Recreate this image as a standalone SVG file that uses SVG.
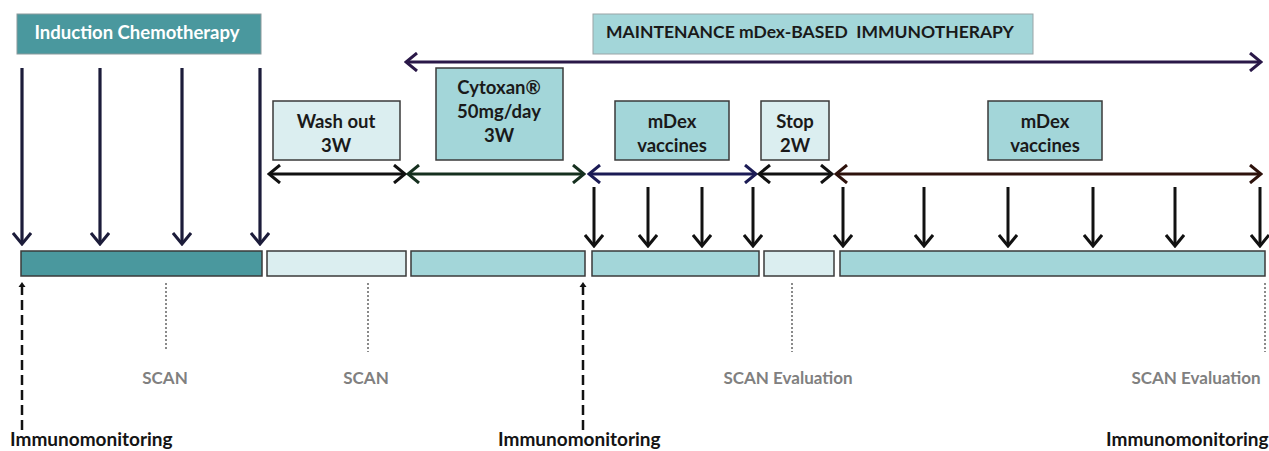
<svg xmlns="http://www.w3.org/2000/svg" width="1269" height="451" viewBox="0 0 1269 451">
  <style>
    .lbl { font-family: Lato, "Open Sans", "Liberation Sans", sans-serif; font-weight: bold; text-anchor: middle; font-size: 18.5px; fill: #1a1a1a; }
    .box { stroke: #3a3a3a; stroke-width: 1.5; }
    .dark { fill: #4a989e; }
    .mid { fill: #a3d6d9; }
    .light { fill: #dbeef0; }
    .scan { font-family: Lato, "Open Sans", "Liberation Sans", sans-serif; font-weight: bold; font-size: 17px; fill: #808080; text-anchor: middle; }
    .imm { font-family: Lato, "Open Sans", "Liberation Sans", sans-serif; font-weight: bold; font-size: 19px; fill: #141414; }
  </style>
  <defs>
    <marker id="hNavy" markerUnits="userSpaceOnUse" viewBox="-12 -10 14 20" markerWidth="14" markerHeight="20" refX="0" refY="0" orient="auto-start-reverse">
      <path d="M-11,-9 L0,0 L-11,9" fill="none" stroke="#1c1c3a" stroke-width="3"/>
    </marker>
    <marker id="hBlack" markerUnits="userSpaceOnUse" viewBox="-12 -10 14 20" markerWidth="14" markerHeight="20" refX="0" refY="0" orient="auto-start-reverse">
      <path d="M-11,-9 L0,0 L-11,9" fill="none" stroke="#111" stroke-width="3"/>
    </marker>
    <marker id="hGreen" markerUnits="userSpaceOnUse" viewBox="-12 -10 14 20" markerWidth="14" markerHeight="20" refX="0" refY="0" orient="auto-start-reverse">
      <path d="M-11,-9 L0,0 L-11,9" fill="none" stroke="#16301f" stroke-width="3"/>
    </marker>
    <marker id="hBlue" markerUnits="userSpaceOnUse" viewBox="-12 -10 14 20" markerWidth="14" markerHeight="20" refX="0" refY="0" orient="auto-start-reverse">
      <path d="M-11,-9 L0,0 L-11,9" fill="none" stroke="#1b1b55" stroke-width="3"/>
    </marker>
    <marker id="hBrown" markerUnits="userSpaceOnUse" viewBox="-12 -10 14 20" markerWidth="14" markerHeight="20" refX="0" refY="0" orient="auto-start-reverse">
      <path d="M-11,-9 L0,0 L-11,9" fill="none" stroke="#2e120c" stroke-width="3"/>
    </marker>
    <marker id="hPurple" markerUnits="userSpaceOnUse" viewBox="-12 -10 14 20" markerWidth="14" markerHeight="20" refX="0" refY="0" orient="auto-start-reverse">
      <path d="M-11,-9 L0,0 L-11,9" fill="none" stroke="#2a1848" stroke-width="3"/>
    </marker>
    <marker id="hSmall" markerUnits="userSpaceOnUse" viewBox="-6 -5 7 10" markerWidth="7" markerHeight="10" refX="0" refY="0" orient="auto">
      <path d="M-5,-3.5 L0,0 L-5,3.5 Z" fill="#111"/>
    </marker>
  </defs>

  <rect width="1269" height="451" fill="#ffffff"/>

  <!-- phase headers -->
  <g id="induction">
    <rect x="17" y="14" width="244" height="40" class="dark" stroke="#8a9a9c" stroke-width="1"/>
    <text x="137" y="39" class="lbl" style="fill:#ffffff">Induction Chemotherapy</text>
  </g>
  <g id="maintenance">
    <rect x="593" y="14" width="440" height="40" class="mid" stroke="#9aa4a6" stroke-width="1"/>
    <text x="810" y="38" class="lbl" style="font-size:17.5px" xml:space="preserve">MAINTENANCE mDex-BASED  IMMUNOTHERAPY</text>
  </g>

  <!-- step boxes -->
  <g id="washout">
    <rect x="273" y="101" width="127" height="59" class="box light"/>
    <text x="336" y="128" class="lbl">Wash out</text>
    <text x="336" y="152" class="lbl">3W</text>
  </g>
  <g id="cytoxan">
    <rect x="436" y="68" width="127" height="92" class="box mid"/>
    <text x="499" y="94" class="lbl">Cytoxan®</text>
    <text x="499" y="118" class="lbl">50mg/day</text>
    <text x="499" y="142" class="lbl">3W</text>
  </g>
  <g id="vaccines1">
    <rect x="615" y="101" width="114" height="59" class="box mid"/>
    <text x="672" y="128" class="lbl">mDex</text>
    <text x="672" y="152" class="lbl">vaccines</text>
  </g>
  <g id="stop">
    <rect x="761" y="101" width="68" height="59" class="box light"/>
    <text x="795" y="128" class="lbl">Stop</text>
    <text x="795" y="152" class="lbl">2W</text>
  </g>
  <g id="vaccines2">
    <rect x="988" y="101" width="114" height="59" class="box mid"/>
    <text x="1045" y="128" class="lbl">mDex</text>
    <text x="1045" y="152" class="lbl">vaccines</text>
  </g>

  <!-- timeline bars -->
  <g id="timeline">
    <rect x="21" y="251" width="241" height="25" class="box dark"/>
    <rect x="267" y="251" width="139" height="25" class="box light"/>
    <rect x="411" y="251" width="174" height="25" class="box mid"/>
    <rect x="592" y="251" width="167" height="25" class="box mid"/>
    <rect x="764" y="251" width="70" height="25" class="box light"/>
    <rect x="840" y="251" width="425" height="25" class="box mid"/>
  </g>

  <!-- labels under the timeline -->
  <g id="labels">
    <text x="165" y="384" class="scan">SCAN</text>
    <text x="366" y="384" class="scan">SCAN</text>
    <text x="788" y="384" class="scan">SCAN Evaluation</text>
    <text x="1196" y="384" class="scan">SCAN Evaluation</text>
    <text x="10" y="446" class="imm">Immunomonitoring</text>
    <text x="498" y="446" class="imm">Immunomonitoring</text>
    <text x="1106" y="446" class="imm">Immunomonitoring</text>
  </g>

  <g id="connectors" fill="none">
    <!-- maintenance span -->
    <line x1="406" y1="62" x2="1261" y2="62" stroke="#2a1848" stroke-width="3" marker-start="url(#hPurple)" marker-end="url(#hPurple)"/>

    <!-- phase spans -->
    <line x1="269" y1="174" x2="405" y2="174" stroke="#111" stroke-width="3" marker-start="url(#hBlack)" marker-end="url(#hBlack)"/>
    <line x1="408" y1="174" x2="584" y2="174" stroke="#16301f" stroke-width="3" marker-start="url(#hGreen)" marker-end="url(#hGreen)"/>
    <line x1="589" y1="174" x2="756" y2="174" stroke="#1b1b55" stroke-width="3" marker-start="url(#hBlue)" marker-end="url(#hBlue)"/>
    <line x1="759" y1="174" x2="832" y2="174" stroke="#111" stroke-width="3" marker-start="url(#hBlack)" marker-end="url(#hBlack)"/>
    <line x1="836" y1="174" x2="1261" y2="174" stroke="#2e120c" stroke-width="3" marker-start="url(#hBrown)" marker-end="url(#hBrown)"/>

    <!-- induction doses -->
    <g stroke="#1c1c3a" stroke-width="3.2" marker-end="url(#hNavy)">
      <line x1="22" y1="68" x2="22" y2="244"/>
      <line x1="100" y1="68" x2="100" y2="244"/>
      <line x1="182" y1="68" x2="182" y2="244"/>
      <line x1="260" y1="68" x2="260" y2="244"/>
    </g>

    <!-- vaccine doses -->
    <g stroke="#111" stroke-width="3" marker-end="url(#hBlack)">
      <line x1="594" y1="187" x2="594" y2="246"/>
      <line x1="648" y1="187" x2="648" y2="246"/>
      <line x1="702" y1="187" x2="702" y2="246"/>
      <line x1="753" y1="187" x2="753" y2="246"/>
      <line x1="843" y1="187" x2="843" y2="246"/>
      <line x1="924" y1="187" x2="924" y2="246"/>
      <line x1="1008" y1="187" x2="1008" y2="246"/>
      <line x1="1093" y1="187" x2="1093" y2="246"/>
      <line x1="1175" y1="187" x2="1175" y2="246"/>
      <line x1="1260" y1="187" x2="1260" y2="246"/>
    </g>

    <!-- immunomonitoring points -->
    <g stroke="#111" stroke-width="2.5" stroke-dasharray="10,5" marker-end="url(#hSmall)">
      <line x1="22" y1="430" x2="22" y2="282"/>
      <line x1="583" y1="430" x2="583" y2="282"/>
    </g>

    <!-- scan points -->
    <g stroke="#8a8a8a" stroke-width="2" stroke-dasharray="2,2">
      <line x1="166" y1="283" x2="166" y2="350"/>
      <line x1="368" y1="283" x2="368" y2="352"/>
      <line x1="792" y1="283" x2="792" y2="352"/>
      <line x1="1265" y1="283" x2="1265" y2="352"/>
    </g>
  </g>
</svg>
